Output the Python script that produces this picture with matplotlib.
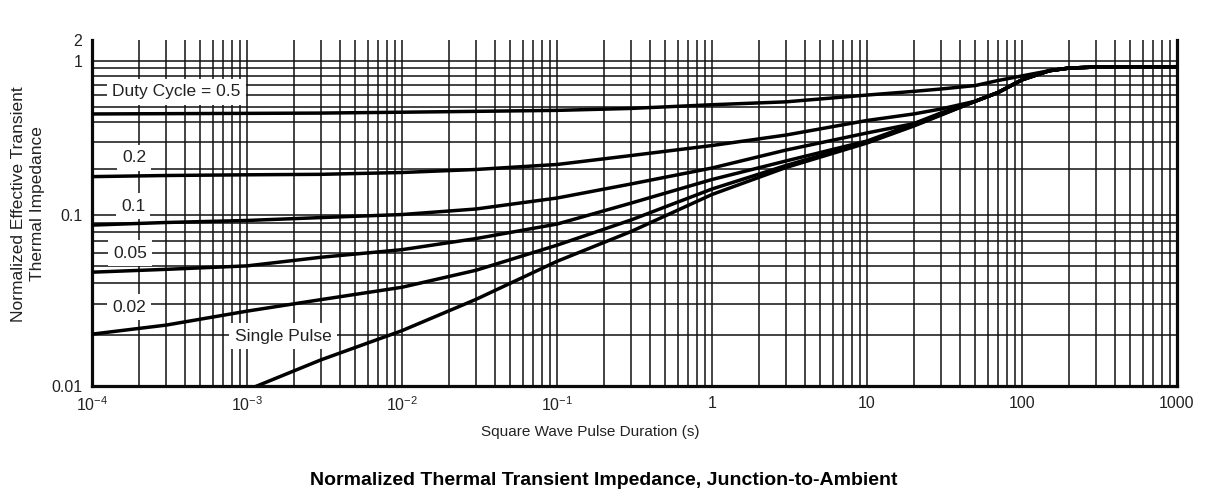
import numpy as np
import matplotlib
matplotlib.use("Agg")
import matplotlib.pyplot as plt
from matplotlib.ticker import FixedLocator, FixedFormatter, NullFormatter

plt.rcParams['font.family'] = ['Liberation Sans', 'DejaVu Sans']
plt.rcParams['mathtext.default'] = 'regular'

# ---------------- data ----------------
pulse_t = [1e-4, 3e-4, 1e-3, 3e-3, 1e-2, 3e-2, 0.1, 0.3, 1, 3, 10, 20, 30, 50, 70, 100, 150, 200, 300, 1000]

duty_05 = [0.453, 0.455, 0.457, 0.459, 0.465, 0.471, 0.478, 0.492, 0.520, 0.543, 0.601, 0.635, 0.658, 0.693, 0.747, 0.800, 0.865, 0.899, 0.914, 0.918]
duty_02 = [0.1775, 0.1805, 0.1824, 0.1837, 0.1888, 0.1975, 0.2128, 0.2432, 0.2826, 0.3305, 0.411, 0.453, 0.488, 0.548, 0.624, 0.755, 0.865, 0.899, 0.914, 0.918]
duty_01 = [0.0873, 0.0904, 0.0929, 0.0966, 0.1007, 0.1094, 0.1289, 0.159, 0.2019, 0.264, 0.341, 0.392, 0.460, 0.548, 0.624, 0.755, 0.865, 0.899, 0.914, 0.918]
duty_005 = [0.0463, 0.0481, 0.0504, 0.0566, 0.0627, 0.0728, 0.0885, 0.1194, 0.170, 0.2243, 0.3023, 0.390, 0.452, 0.548, 0.624, 0.755, 0.865, 0.899, 0.914, 0.918]
duty_002 = [0.0201, 0.0227, 0.0274, 0.0320, 0.0378, 0.0475, 0.0666, 0.0935, 0.1475, 0.2096, 0.2978, 0.382, 0.448, 0.548, 0.624, 0.755, 0.865, 0.899, 0.914, 0.918]
single_pulse = [np.nan, np.nan, 0.00947, 0.01422, 0.02107, 0.0321, 0.0536, 0.080, 0.1359, 0.2034, 0.2934, 0.378, 0.445, 0.548, 0.624, 0.755, 0.865, 0.899, 0.914, 0.918]

series = [duty_05, duty_02, duty_01, duty_005, duty_002, single_pulse]
series_labels = ["Duty Cycle = 0.5", "0.2", "0.1", "0.05", "0.02", "Single Pulse"]

x_ticks = [1e-4, 1e-3, 1e-2, 1e-1, 1, 10, 100, 1000]
x_ticklabels = ['$10^{-4}$', '$10^{-3}$', '$10^{-2}$', '$10^{-1}$', '1', '10', '100', '1000']
y_ticks = [0.01, 0.1, 1, 2]
y_ticklabels = ['0.01', '0.1', '1', '2']
y_minor = [0.02, 0.03, 0.04, 0.05, 0.06, 0.07, 0.08, 0.09,
           0.2, 0.3, 0.4, 0.5, 0.6, 0.7, 0.8, 0.9]

# ---------------- scale (non-uniform log as in the printed chart) ----------------
LOGK = np.array([-2.0, -1.0, 0.0, np.log10(2)])
POS = np.array([0.0, 171.0, 325.0, 346.0])
S_LO = (POS[1] - POS[0]) / (LOGK[1] - LOGK[0])
S_HI = (POS[-1] - POS[-2]) / (LOGK[-1] - LOGK[-2])


def fwd(y):
    y = np.asarray(y, dtype=float)
    with np.errstate(divide='ignore', invalid='ignore'):
        l = np.log10(np.where(y > 0, y, np.nan))
    out = np.interp(l, LOGK, POS)
    out = np.where(l < LOGK[0], POS[0] + (l - LOGK[0]) * S_LO, out)
    out = np.where(l > LOGK[-1], POS[-1] + (l - LOGK[-1]) * S_HI, out)
    return out


def inv(p):
    p = np.asarray(p, dtype=float)
    l = np.interp(p, POS, LOGK)
    l = np.where(p < POS[0], LOGK[0] + (p - POS[0]) / S_LO, l)
    l = np.where(p > POS[-1], LOGK[-1] + (p - POS[-1]) / S_HI, l)
    return 10.0 ** l


W, H = 1207, 494
fig = plt.figure(figsize=(W / 100, H / 100), dpi=100)
ax = fig.add_axes([92 / W, 1 - 386 / H, (1177 - 92) / W, (386 - 40) / H])

ax.set_xscale('log')
ax.set_yscale('function', functions=(fwd, inv))
ax.set_xlim(1e-4, 1000)
ax.set_ylim(0.01, 2)

ax.xaxis.set_major_locator(FixedLocator(x_ticks))
ax.xaxis.set_major_formatter(FixedFormatter(x_ticklabels))
ax.yaxis.set_major_locator(FixedLocator(y_ticks))
ax.yaxis.set_major_formatter(FixedFormatter(y_ticklabels))
ax.yaxis.set_minor_locator(FixedLocator(y_minor))
ax.yaxis.set_minor_formatter(NullFormatter())
ax.xaxis.set_minor_formatter(NullFormatter())

gcol = '#111111'
ax.grid(True, which='both', axis='both', color=gcol, linewidth=1.1, zorder=1)
ax.set_axisbelow(True)
ax.tick_params(which='both', length=0, colors='#222222')
ax.tick_params(axis='x', pad=7, labelsize=11.5)
ax.tick_params(axis='y', pad=7, labelsize=11.5)

for sp in ['left', 'bottom', 'right']:
    ax.spines[sp].set_linewidth(2.3)
    ax.spines[sp].set_color('#0a0a0a')
ax.spines['top'].set_visible(False)

fig.canvas.draw()
for tk in ax.yaxis.get_major_ticks():
    if abs(tk.get_loc() - 2) < 1e-9:
        tk.gridline.set_visible(False)

for ys in series:
    ax.plot(pulse_t, ys, color='black', linewidth=2.5, zorder=4,
            solid_capstyle='butt', solid_joinstyle='round')

# labels with white boxes masking the grid
label_pos = [(0.078, 0.850), (0.0387, 0.659), (0.0378, 0.520),
             (0.035, 0.384), (0.034, 0.228), (0.176, 0.1445)]
for txt, (lx, ly) in zip(series_labels, label_pos):
    ax.text(lx, ly, txt, transform=ax.transAxes, ha='center', va='center',
            fontsize=12.5, color='#222222', zorder=3,
            bbox=dict(boxstyle='square,pad=0.3', facecolor='white', edgecolor='none'))

fig.text(590 / W, 1 - 432 / H, 'Square Wave Pulse Duration (s)', ha='center', va='center',
         fontsize=11, color='#222222')
fig.text(28 / W, 1 - 204 / H, 'Normalized Effective Transient\nThermal Impedance',
         rotation=90, ha='center', va='center', multialignment='center',
         fontsize=12.5, color='#222222', linespacing=1.3)
fig.text(604 / W, 1 - 480 / H, 'Normalized Thermal Transient Impedance, Junction-to-Ambient',
         ha='center', va='center', fontsize=14, fontweight='bold', color='black')

fig.savefig('out.png', dpi=100)
